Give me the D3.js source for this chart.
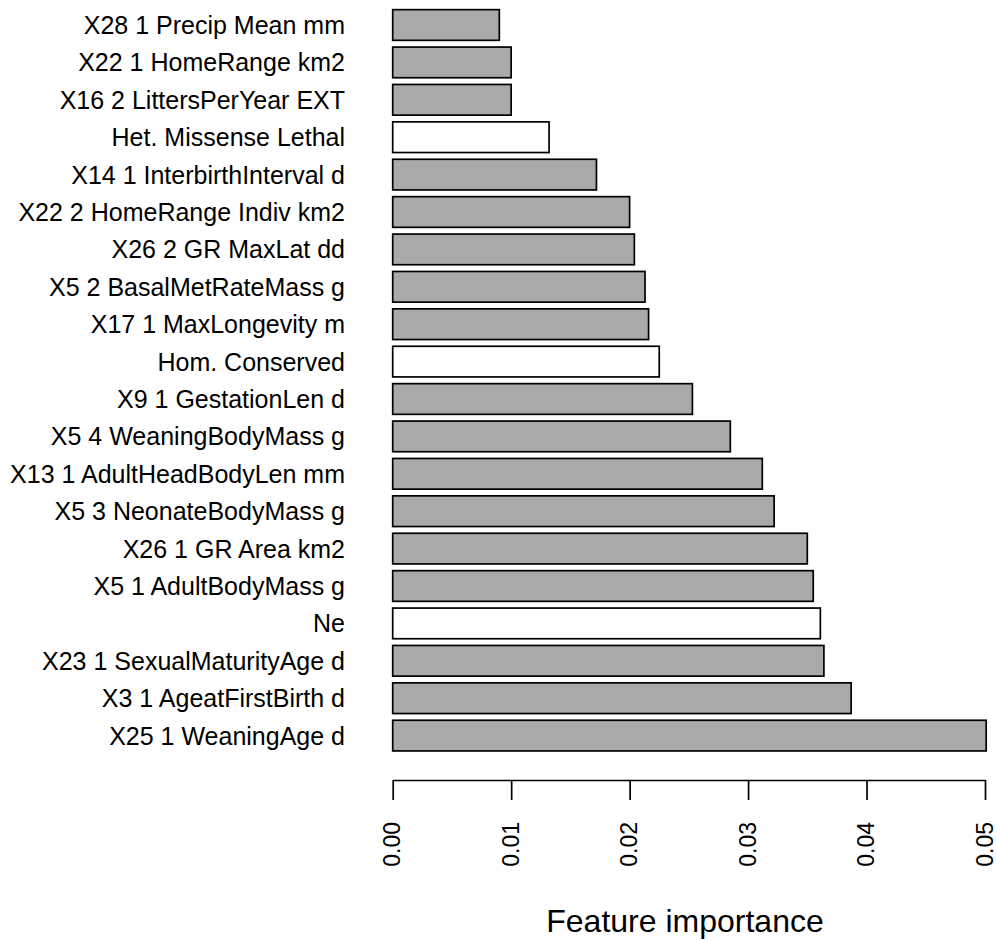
<!DOCTYPE html>
<html>
<head>
<meta charset="utf-8">
<script src="https://cdn.jsdelivr.net/npm/d3@7"></script>
<style>
  html, body { margin: 0; padding: 0; background: #ffffff; }
  svg { display: block; font-family: "Liberation Sans", Arial, Helvetica, sans-serif; }
</style>
</head>
<body>
<svg id="chart" width="997" height="941"></svg>
<script>
// Feature names, top to bottom
const features = [
  "X28 1 Precip Mean mm",
  "X22 1 HomeRange km2",
  "X16 2 LittersPerYear EXT",
  "Het. Missense Lethal",
  "X14 1 InterbirthInterval d",
  "X22 2 HomeRange Indiv km2",
  "X26 2 GR MaxLat dd",
  "X5 2 BasalMetRateMass g",
  "X17 1 MaxLongevity m",
  "Hom. Conserved",
  "X9 1 GestationLen d",
  "X5 4 WeaningBodyMass g",
  "X13 1 AdultHeadBodyLen mm",
  "X5 3 NeonateBodyMass g",
  "X26 1 GR Area km2",
  "X5 1 AdultBodyMass g",
  "Ne",
  "X23 1 SexualMaturityAge d",
  "X3 1 AgeatFirstBirth d",
  "X25 1 WeaningAge d"
];

// Importance of each feature
const importance = [
  0.0090, 0.0100, 0.0100, 0.0132, 0.0172,
  0.0200, 0.0204, 0.0213, 0.0216, 0.0225,
  0.0253, 0.0285, 0.0312, 0.0322, 0.0350,
  0.0355, 0.0361, 0.0364, 0.0387, 0.0501
];

// Genetic features are drawn unfilled
const geneticFeatures = ["Het. Missense Lethal", "Hom. Conserved", "Ne"];

const xTicks = [0, 0.01, 0.02, 0.03, 0.04, 0.05];
const xTitle = "Feature importance";

const data = features.map((f, i) => ({ name: f, value: importance[i] }));

const svg = d3.select("#chart");

const x = d3.scaleLinear().domain([0, 0.05]).range([392.7, 985]);
const y = d3.scaleBand()
  .domain(features)
  .range([6.3, 754.3])
  .paddingInner(0.18)
  .paddingOuter(0.09);

// Bars
svg.append("g")
  .selectAll("rect")
  .data(data)
  .join("rect")
  .attr("x", x(0))
  .attr("y", d => y(d.name))
  .attr("width", d => x(d.value) - x(0))
  .attr("height", y.bandwidth())
  .attr("fill", d => geneticFeatures.includes(d.name) ? "#ffffff" : "#a9a9a9")
  .attr("stroke", "#000000")
  .attr("stroke-width", 1.7);

// Category labels
svg.append("g")
  .selectAll("text")
  .data(data)
  .join("text")
  .attr("x", 345)
  .attr("y", d => y(d.name) + y.bandwidth() / 2 + 9)
  .attr("text-anchor", "end")
  .attr("font-size", "25px")
  .attr("fill", "#000000")
  .text(d => d.name);

// Bottom axis
const axis = d3.axisBottom(x)
  .tickValues(xTicks)
  .tickFormat(d3.format(".2f"))
  .tickSize(20)
  .tickSizeOuter(0);

const gAxis = svg.append("g")
  .attr("transform", "translate(0,780)")
  .call(axis);

gAxis.select(".domain").attr("stroke", "#000").attr("stroke-width", 1.7);
gAxis.selectAll(".tick line").attr("stroke", "#000").attr("stroke-width", 1.7);
gAxis.selectAll(".tick text")
  .attr("font-family", "Liberation Sans, Arial, sans-serif")
  .attr("font-size", "23px")
  .attr("fill", "#000")
  .attr("text-anchor", "end")
  .attr("dy", null)
  .attr("y", null)
  .attr("transform", "translate(7,42) rotate(-90)");

// Axis title
svg.append("text")
  .attr("x", 685)
  .attr("y", 931.5)
  .attr("text-anchor", "middle")
  .attr("font-size", "32px")
  .attr("fill", "#000")
  .text(xTitle);
</script>
</body>
</html>
